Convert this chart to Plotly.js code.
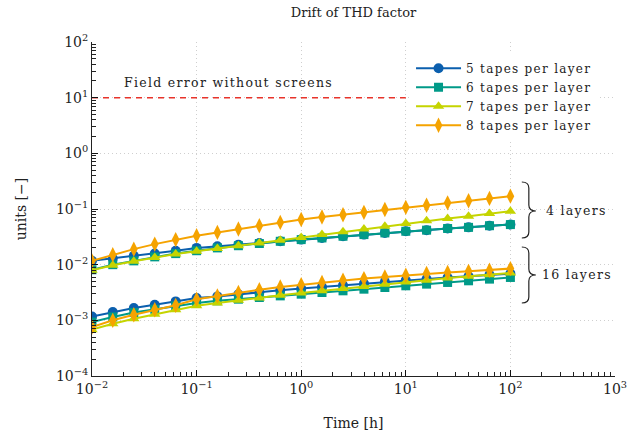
<!DOCTYPE html>
<html>
<head>
<meta charset="utf-8">
<script src="https://cdn.plot.ly/plotly-3.0.1.min.js"></script>
<style>
html,body{margin:0;padding:0;background:#fff;}
#chart{width:631px;height:432px;}
.legendtext, .annotation-text { letter-spacing: 1.3px; }
</style>
</head>
<body>
<div id="chart"></div>
<script>
// Time points [h]
const time = [0.01, 0.0158, 0.0251, 0.0398, 0.0631, 0.1, 0.158, 0.251, 0.398, 0.631, 1, 1.58, 2.51, 3.98, 6.31, 10, 15.8, 25.1, 39.8, 63.1, 100];

const seriesNames = ["5 tapes per layer", "6 tapes per layer", "7 tapes per layer", "8 tapes per layer"];
const groupLabels = ["4 layers", "16 layers"];

// 4 layers
const l4_t5 = [0.0117, 0.0129, 0.0145, 0.0158, 0.0178, 0.0200, 0.0214, 0.0229, 0.0245, 0.0263, 0.0282, 0.0302, 0.0324, 0.0347, 0.0372, 0.0398, 0.0417, 0.0447, 0.0468, 0.0501, 0.0525];
const l4_t6 = [0.0081, 0.0100, 0.0117, 0.0138, 0.0158, 0.0178, 0.0200, 0.0219, 0.0240, 0.0263, 0.0282, 0.0302, 0.0324, 0.0347, 0.0372, 0.0398, 0.0417, 0.0447, 0.0468, 0.0501, 0.0525];
const l4_t7 = [0.0079, 0.0098, 0.0115, 0.0135, 0.0155, 0.0174, 0.0195, 0.0219, 0.0245, 0.0275, 0.0309, 0.0347, 0.0389, 0.0437, 0.0490, 0.0550, 0.0617, 0.0676, 0.0741, 0.0832, 0.0912];
const l4_t8 = [0.0117, 0.0151, 0.0190, 0.0234, 0.0282, 0.0330, 0.0380, 0.0437, 0.0500, 0.0575, 0.0646, 0.0720, 0.0790, 0.0870, 0.0980, 0.1070, 0.1170, 0.1290, 0.1410, 0.1550, 0.1700];

// 16 layers
const l16_t5 = [0.00117, 0.00141, 0.00166, 0.00191, 0.00219, 0.00251, 0.00269, 0.00295, 0.00316, 0.00347, 0.00372, 0.00398, 0.00427, 0.00457, 0.00490, 0.00525, 0.00550, 0.00589, 0.00617, 0.00660, 0.00690];
const l16_t6 = [0.00093, 0.00115, 0.00138, 0.00158, 0.00182, 0.00204, 0.00224, 0.00240, 0.00257, 0.00275, 0.00295, 0.00316, 0.00339, 0.00363, 0.00389, 0.00417, 0.00447, 0.00479, 0.00513, 0.00550, 0.00589];
const l16_t7 = [0.00068, 0.00087, 0.00107, 0.00129, 0.00155, 0.00182, 0.00204, 0.00229, 0.00251, 0.00282, 0.00309, 0.00339, 0.00372, 0.00407, 0.00447, 0.00490, 0.00525, 0.00575, 0.00617, 0.00660, 0.00708];
const l16_t8 = [0.00076, 0.00100, 0.00126, 0.00155, 0.00186, 0.00240, 0.00275, 0.00316, 0.00355, 0.00398, 0.00437, 0.00479, 0.00525, 0.00562, 0.00603, 0.00646, 0.00692, 0.00724, 0.00759, 0.00794, 0.00850];

// Reference line: field error without screens
const refX = [0.01, 10];
const refY = [10, 10];
const refLabel = "Field error without screens";

// Tick labels
const xTickVals = [0.01, 0.1, 1, 10, 100, 1000];
const xTickText = ["10<sup>−2</sup>", "10<sup>−1</sup>", "10<sup>0</sup>", "10<sup>1</sup>", "10<sup>2</sup>", "10<sup>3</sup>"];
const yTickVals = [0.0001, 0.001, 0.01, 0.1, 1, 10, 100];
const yTickText = ["10<sup>−4</sup>", "10<sup>−3</sup>", "10<sup>−2</sup>", "10<sup>−1</sup>", "10<sup>0</sup>", "10<sup>1</sup>", "10<sup>2</sup>"];

const colors = ["#0b5fae", "#009a88", "#c5d400", "#f5a300"];
const symbols = ["circle", "square", "triangle-up", "diamond-tall"];
const sizes = [10, 9, 10, 11];

const FONT = "DejaVu Serif";
const l4 = [l4_t5, l4_t6, l4_t7, l4_t8];
const l16 = [l16_t5, l16_t6, l16_t7, l16_t8];

function minorVals(lo, hi) {
  const out = [];
  for (let e = lo; e < hi; e++) for (let m = 2; m <= 9; m++) out.push(m * Math.pow(10, e));
  return out;
}

const traces = [];
traces.push({x: refX, y: refY, mode: "lines", line: {color: "#e8332a", width: 1.5, dash: "6px,5px"}, showlegend: false, hoverinfo: "skip"});
for (let i = 0; i < 4; i++) {
  traces.push({x: time, y: l16[i], mode: "lines+markers", name: seriesNames[i], legendgroup: "g" + i, showlegend: false,
    line: {color: colors[i], width: 2}, marker: {symbol: symbols[i], size: sizes[i], color: colors[i]}});
}
for (let i = 0; i < 4; i++) {
  traces.push({x: time, y: l4[i], mode: "lines+markers", name: seriesNames[i], legendgroup: "g" + i, showlegend: true,
    line: {color: colors[i], width: 2}, marker: {symbol: symbols[i], size: sizes[i], color: colors[i]}});
}

function px(v) { return (v - 92) / 522; }
function py(v) { return (376 - v) / 334; }
function brace(y0, ym, y1) {
  const a = px(521), b = px(528), c = px(535), r = 6;
  return `M ${a},${py(y0)} Q ${b},${py(y0)} ${b},${py(y0 + r)} L ${b},${py(ym - r)} Q ${b},${py(ym)} ${c},${py(ym)} ` +
         `Q ${b},${py(ym)} ${b},${py(ym + r)} L ${b},${py(y1 - r)} Q ${b},${py(y1)} ${a},${py(y1)}`;
}

const axisCommon = {
  type: "log", showline: true, linecolor: "#222", linewidth: 1,
  ticks: "inside", ticklen: 6, tickwidth: 1, tickcolor: "#111",
  tickmode: "array",
  showgrid: true, gridcolor: "#cfcfcf", griddash: "1px,3px", gridwidth: 1,
  zeroline: false,
  tickfont: {family: FONT, size: 14, color: "#222"}
};

const layout = {
  width: 631, height: 432,
  margin: {l: 92, r: 16, t: 42, b: 56},
  paper_bgcolor: "#fff", plot_bgcolor: "#fff",
  font: {family: FONT, color: "#222"},
  title: {text: "Drift of THD factor", font: {family: FONT, size: 13, color: "#222"}, x: 0.5, xref: "paper", y: 0.972, yanchor: "middle"},
  xaxis: Object.assign({}, axisCommon, {range: [-2, 3], tickvals: xTickVals, ticktext: xTickText,
    minor: {tickmode: "array", tickvals: minorVals(-2, 3), ticks: "inside", ticklen: 4, tickwidth: 1, tickcolor: "#222", showgrid: false},
    title: {text: "Time [h]", font: {family: FONT, size: 14}, standoff: 22}}),
  yaxis: Object.assign({}, axisCommon, {range: [-4, 2], tickvals: yTickVals, ticktext: yTickText,
    minor: {tickmode: "array", tickvals: minorVals(-4, 2), ticks: "inside", ticklen: 4, tickwidth: 1, tickcolor: "#222", showgrid: false},
    title: {text: "units [−]", font: {family: FONT, size: 14}, standoff: 26}}),
  legend: {x: 0.61, y: 0.965, xanchor: "left", yanchor: "top", bgcolor: "#fff", borderwidth: 0, itemwidth: 45,
    font: {family: FONT, size: 12, color: "#222"}, tracegroupgap: 0},
  showlegend: true,
  annotations: [
    {x: Math.log10(0.0195), y: Math.log10(18.7), xref: "x", yref: "y", text: refLabel, showarrow: false, xanchor: "left", yanchor: "middle",
      font: {family: FONT, size: 12.5, color: "#222"}},
    {x: px(543), y: py(211), xref: "paper", yref: "paper", text: groupLabels[0], showarrow: false, xanchor: "left", yanchor: "middle",
      font: {family: FONT, size: 12.5, color: "#222"}},
    {x: px(539), y: py(274), xref: "paper", yref: "paper", text: groupLabels[1], showarrow: false, xanchor: "left", yanchor: "middle",
      font: {family: FONT, size: 12.5, color: "#222"}}
  ],
  shapes: [
    {type: "path", xref: "paper", yref: "paper", path: brace(182, 211, 238), line: {color: "#222", width: 1.2}},
    {type: "path", xref: "paper", yref: "paper", path: brace(247, 275, 303), line: {color: "#222", width: 1.2}}
  ]
};

Plotly.newPlot("chart", traces, layout, {staticPlot: true, displayModeBar: false});
</script>
</body>
</html>
